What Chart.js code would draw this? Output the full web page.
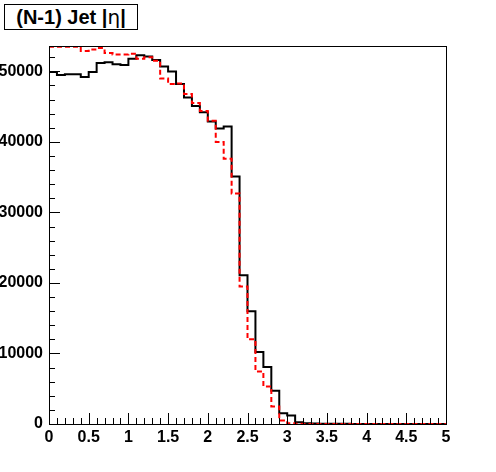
<!DOCTYPE html>
<html>
<head>
<meta charset="utf-8">
<script src="https://cdn.jsdelivr.net/npm/chart.js@4.4.1/dist/chart.umd.min.js"></script>
<style>
  body { margin: 0; background: #fff; }
  #wrap { position: relative; width: 496px; height: 472px; }
  #titulo {
    position: absolute; left: 4px; top: 4px; width: 132px; height: 24px;
    border: 1px solid #000; background: #fff;
    font: bold 20px "Liberation Sans", Arial, sans-serif;
    text-align: center; line-height: 25px; white-space: nowrap;
  }
  #titulo .eta { font-weight: normal; font-family: "DejaVu Sans", sans-serif; }
</style>
</head>
<body>
<div id="wrap">
  <canvas id="grafico" width="496" height="472"></canvas>
  <div id="titulo">(N-1) Jet |<span class="eta">η</span>|</div>
</div>
<script>
// |eta| bins of 0.1 from 0 to 5
const binWidth = 0.1;
const xTicks = [0, 0.5, 1, 1.5, 2, 2.5, 3, 3.5, 4, 4.5, 5];
const yTicks = [0, 10000, 20000, 30000, 40000, 50000];

// black solid histogram
const jetEtaA = [
  49900, 49500, 49600, 49600, 49200, 49900, 51200, 51300, 51000, 50900,
  51800, 52300, 52100, 51600, 50700, 50000, 48200, 46300, 45100, 44200,
  42900, 41900, 42200, 35100, 21100, 16000, 10200, 8070, 4710, 1530,
  1210, 250, 120, 60, 40, 30, 20, 20, 10, 10,
  10, 0, 0, 0, 0, 0, 0, 0, 0, 0
];
// red dashed histogram
const jetEtaB = [
  53500, 53500, 53500, 53500, 52900, 53100, 53300, 52600, 52400, 52400,
  52500, 51800, 52000, 51500, 49000, 48200, 48300, 46800, 45500, 44400,
  43000, 40000, 37600, 32700, 19500, 12000, 7450, 5320, 2490, 500,
  120, 20, 10, 0, 0, 0, 0, 0, 0, 0,
  0, 0, 0, 0, 0, 0, 0, 0, 0, 0
];

function pontosHist(valores) {
  const pts = valores.map((v, i) => ({ x: i * binWidth, y: v }));
  pts.push({ x: valores.length * binWidth, y: valores[valores.length - 1] });
  return pts;
}

// ticks pointing inward + frame, ROOT style
const moldura = {
  id: 'moldura',
  afterDatasetsDraw(chart) {
    const { ctx, chartArea: a, scales: { x, y } } = chart;
    ctx.save();
    ctx.strokeStyle = '#000';
    ctx.lineWidth = 1;
    ctx.beginPath();
    for (let i = 0; i <= 50; i++) {
      const px = Math.round(x.getPixelForValue(i * binWidth)) + 0.5;
      const len = i % 5 === 0 ? 11 : 6;
      ctx.moveTo(px, a.bottom);
      ctx.lineTo(px, a.bottom - len);
    }
    for (let v = 0; v <= y.max; v += 2000) {
      const py = Math.round(y.getPixelForValue(v)) + 0.5;
      const len = v % 10000 === 0 ? 11 : 6;
      ctx.moveTo(a.left, py);
      ctx.lineTo(a.left + len, py);
    }
    ctx.stroke();
    ctx.strokeRect(Math.round(a.left) + 0.5, Math.round(a.top) + 0.5,
      Math.round(a.right - a.left), Math.round(a.bottom - a.top));
    ctx.restore();
  }
};

const fonteEixo = { family: "'Liberation Sans', Arial, sans-serif", size: 16, weight: 'bold' };

new Chart(document.getElementById('grafico'), {
  type: 'line',
  data: {
    datasets: [
      {
        data: pontosHist(jetEtaA),
        borderColor: '#000',
        borderWidth: 2,
        stepped: 'before',
        pointRadius: 0,
        order: 1
      },
      {
        data: pontosHist(jetEtaB),
        borderColor: '#ff0000',
        borderWidth: 2,
        borderDash: [5, 3],
        stepped: 'before',
        pointRadius: 0,
        order: 0
      }
    ]
  },
  options: {
    responsive: false,
    animation: false,
    events: [],
    layout: { padding: { top: 46, right: 50, left: 0, bottom: 0 } },
    plugins: { legend: { display: false }, tooltip: { enabled: false } },
    scales: {
      x: {
        type: 'linear',
        min: 0,
        max: 5,
        afterBuildTicks: s => { s.ticks = xTicks.map(v => ({ value: v })); },
        afterFit: s => { s.height = 48; },
        grid: { display: false, drawTicks: false },
        border: { display: false },
        ticks: {
          autoSkip: false, maxRotation: 0, padding: 4,
          color: '#000', font: fonteEixo,
          callback: v => String(v)
        }
      },
      y: {
        min: 0,
        max: 53600,
        afterBuildTicks: s => { s.ticks = yTicks.map(v => ({ value: v })); },
        afterFit: s => { s.width = 49; },
        grid: { display: false, drawTicks: false },
        border: { display: false },
        ticks: {
          padding: 6, color: '#000', font: fonteEixo,
          callback: v => String(v)
        }
      }
    }
  },
  plugins: [moldura]
});
</script>
</body>
</html>
